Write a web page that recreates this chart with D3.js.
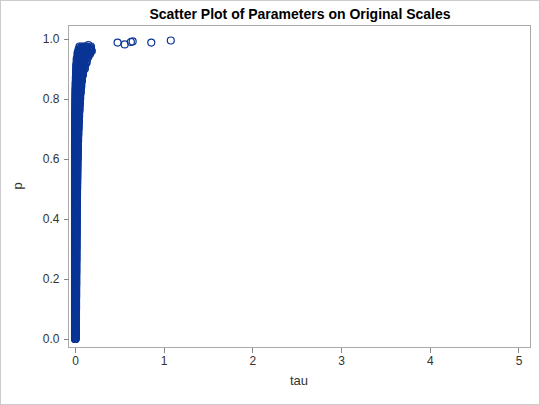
<!DOCTYPE html>
<html>
<head>
<meta charset="utf-8">
<style>
  body {margin: 0; font-family: Arial, "Liberation Sans", sans-serif;}
  .axis path, .axis line {stroke: #888; shape-rendering: crispEdges;}
  .axis text {font-size: 12px; fill: #333;}
</style>
</head>
<body>
<svg width="540" height="405"></svg>
<script src="https://d3js.org/d3.v7.min.js"></script>
<script>
// dense column near tau = 0
var pVals = [0.00,0.02,0.04,0.06,0.08,0.10,0.12,0.14,0.16,0.18,0.20,0.22,0.24,0.26,0.28,0.30,0.32,0.34,0.36,0.38,0.40,
  0.42,0.44,0.46,0.48,0.50,0.52,0.54,0.56,0.58,0.60,0.62,0.64,0.66,0.68,0.70,0.72,0.74,0.76,0.78,0.80,
  0.82,0.84,0.86,0.88,0.90,0.92,0.94,0.95,0.96];
var tauLeft = [0.000,0.000,0.000,0.000,0.000,0.000,0.000,0.000,0.000,0.000,0.000,0.000,0.000,0.000,0.000,0.000,0.000,0.000,0.000,0.000,0.000,
  0.000,0.000,0.000,0.000,0.000,0.000,0.000,0.000,0.000,0.000,0.000,0.000,0.001,0.001,0.001,0.002,0.002,0.003,0.004,0.005,
  0.006,0.008,0.010,0.012,0.015,0.020,0.030,0.040,0.050];
var tauMid = [0.003,0.004,0.004,0.005,0.005,0.005,0.006,0.006,0.006,0.007,0.007,0.007,0.008,0.008,0.008,0.009,0.009,0.009,0.010,0.010,0.010,
  0.011,0.011,0.012,0.012,0.013,0.013,0.014,0.015,0.016,0.016,0.017,0.018,0.019,0.020,0.022,0.024,0.026,0.028,0.030,0.033,
  0.036,0.040,0.045,0.050,0.060,0.070,0.080,0.090,0.100];
var tauRight = [0.008,0.010,0.010,0.011,0.011,0.012,0.012,0.013,0.013,0.014,0.014,0.015,0.015,0.016,0.016,0.017,0.017,0.018,0.018,0.019,0.019,
  0.020,0.021,0.022,0.023,0.024,0.025,0.026,0.027,0.028,0.030,0.031,0.033,0.035,0.037,0.040,0.043,0.046,0.050,0.054,0.058,
  0.064,0.070,0.078,0.090,0.110,0.130,0.150,0.170,0.180];
// outlying points near the top
var outTau = [0.12,0.15,0.17,0.19,0.10,0.14,0.48,0.56,0.63,0.65,0.86,1.08];
var outP   = [0.975,0.980,0.970,0.960,0.965,0.950,0.988,0.982,0.990,0.992,0.988,0.995];

var xTicks = [0,1,2,3,4,5];
var yTicks = [0.0,0.2,0.4,0.6,0.8,1.0];

var points = [];
pVals.forEach(function(p, i) {
  [0, 0.005, 0.01, 0.015].forEach(function(dp) {
    points.push({tau: tauLeft[i], p: p + dp});
    points.push({tau: (tauLeft[i] + tauMid[i]) / 2, p: p + dp});
    points.push({tau: tauMid[i], p: p + dp});
    points.push({tau: (tauMid[i] + tauRight[i]) / 2, p: p + dp});
    points.push({tau: tauRight[i], p: p + dp});
  });
});
outTau.forEach(function(t, i) { points.push({tau: t, p: outP[i]}); });

var svg = d3.select("svg");
svg.append("rect").attr("x", 0.5).attr("y", 0.5).attr("width", 539).attr("height", 404)
  .attr("fill", "#fff").attr("stroke", "#ccc");

var pLeft = 68, pRight = 530, pTop = 25, pBottom = 347;
var x = d3.scaleLinear().domain([-0.079, 5.13]).range([pLeft, pRight]);
var y = d3.scaleLinear().domain([-0.0267, 1.0467]).range([pBottom, pTop]);

svg.append("rect").attr("x", pLeft + 0.5).attr("y", pTop + 0.5)
  .attr("width", pRight - pLeft).attr("height", pBottom - pTop)
  .attr("fill", "none").attr("stroke", "#aaa");

svg.append("g").attr("class", "axis").attr("transform", "translate(0," + (pBottom + 0.5) + ")")
  .call(d3.axisBottom(x).tickValues(xTicks).tickFormat(d3.format("d")).tickSize(5).tickPadding(4))
  .call(function(g) { g.select(".domain").remove(); });
svg.append("g").attr("class", "axis").attr("transform", "translate(" + (pLeft + 0.5) + ",0)")
  .call(d3.axisLeft(y).tickValues(yTicks).tickFormat(d3.format(".1f")).tickSize(5).tickPadding(4))
  .call(function(g) { g.select(".domain").remove(); });

svg.append("g").selectAll("circle").data(points).enter().append("circle")
  .attr("cx", function(d) { return x(d.tau); })
  .attr("cy", function(d) { return y(d.p); })
  .attr("r", 3.5)
  .attr("fill", "none")
  .attr("stroke", "#0a3596")
  .attr("stroke-width", 1.2);

svg.append("text").attr("x", 300).attr("y", 19).attr("text-anchor", "middle")
  .attr("font-size", 14).attr("font-weight", "bold").text("Scatter Plot of Parameters on Original Scales");
svg.append("text").attr("x", 299).attr("y", 385).attr("text-anchor", "middle")
  .attr("font-size", 13).attr("fill", "#333").text("tau");
svg.append("text").attr("transform", "translate(22,186)rotate(-90)").attr("text-anchor", "middle")
  .attr("font-size", 13).attr("fill", "#333").text("p");
</script>
</body>
</html>
